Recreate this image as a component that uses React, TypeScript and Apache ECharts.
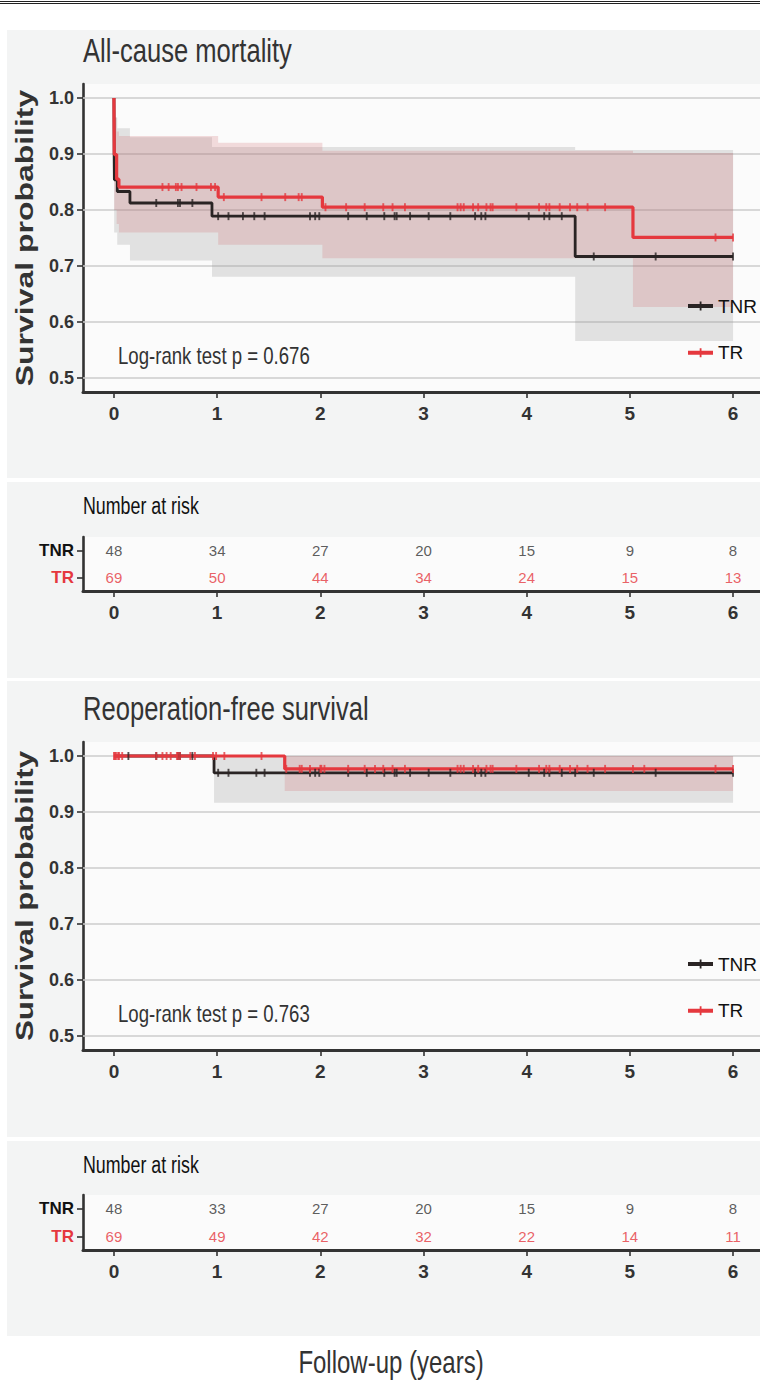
import React, { useEffect, useRef } from "react";
import * as echarts from "echarts";

// ---------- data ----------
const X_TICKS = [0, 1, 2, 3, 4, 5, 6];
const Y_TICKS = [0.5, 0.6, 0.7, 0.8, 0.9, 1.0];
const T_END = 6.0;

// Panel 1: all-cause mortality (Kaplan-Meier steps)
const T_TNR1 = [0, 0.002, 0.004, 0.032, 0.155, 0.95, 4.47, 6.0];
const S_TNR1 = [1.0, 0.896, 0.854, 0.833, 0.8125, 0.789, 0.717, 0.717];
const T_TR1 = [0, 0.003, 0.026, 0.048, 1.01, 2.02, 5.03, 6.0];
const S_TR1 = [1.0, 0.899, 0.855, 0.841, 0.823, 0.805, 0.751, 0.751];

const C_TNR1 = [0.41, 0.62, 0.64, 0.76, 1.01, 1.11, 1.25, 1.36, 1.46, 1.9, 1.95, 1.99, 2.27, 2.45, 2.62, 2.72, 2.74, 2.87, 3.05, 3.26, 3.5, 3.56, 3.6, 4.02, 4.17, 4.22, 4.34, 4.65, 5.25, 6.0];
const C_TR1 = [0.47, 0.53, 0.6, 0.62, 0.655, 0.8, 0.94, 0.98, 1.065, 1.43, 1.66, 1.79, 1.82, 2.05, 2.25, 2.43, 2.61, 2.7, 2.82, 3.33, 3.36, 3.39, 3.48, 3.53, 3.61, 3.65, 3.67, 3.9, 4.12, 4.19, 4.22, 4.32, 4.42, 4.49, 4.59, 4.76, 5.83, 6.0];

const BT_TNR1 = [0.002, 0.032, 0.155, 0.95, 4.47];
const BU_TNR1 = [0.965, 0.946, 0.93, 0.9125, 0.907];
const BL_TNR1 = [0.76, 0.738, 0.71, 0.681, 0.566];
const BT_TR1 = [0.003, 0.026, 0.048, 1.01, 2.02, 5.03];
const BU_TR1 = [0.965, 0.94, 0.932, 0.92, 0.906, 0.902];
const BL_TR1 = [0.8, 0.775, 0.76, 0.738, 0.714, 0.627];

// Panel 2: reoperation-free survival
const T_TNR2 = [0, 0.97, 6.0];
const S_TNR2 = [1.0, 0.97, 0.97];
const T_TR2 = [0, 1.655, 6.0];
const S_TR2 = [1.0, 0.977, 0.977];

const C_TNR2 = [0.14, 0.41, 0.62, 0.64, 0.76, 1.01, 1.11, 1.38, 1.46, 1.9, 1.95, 1.99, 2.27, 2.45, 2.62, 2.72, 2.74, 2.87, 3.05, 3.26, 3.5, 3.56, 3.6, 4.02, 4.17, 4.22, 4.34, 4.47, 4.65, 5.25, 6.0];
const C_TR2 = [0.0, 0.01, 0.02, 0.04, 0.05, 0.08, 0.41, 0.47, 0.51, 0.55, 0.61, 0.62, 0.64, 0.74, 0.785, 0.96, 0.99, 1.07, 1.43, 1.67, 1.8, 1.82, 1.9, 2.0, 2.01, 2.04, 2.27, 2.43, 2.53, 2.61, 2.7, 2.82, 3.33, 3.36, 3.39, 3.48, 3.53, 3.61, 3.65, 3.67, 3.9, 4.12, 4.19, 4.22, 4.32, 4.42, 4.49, 4.59, 4.76, 5.03, 5.14, 5.83, 6.0];

const BT_TNR2 = [0.97];
const BU_TNR2 = [1.0];
const BL_TNR2 = [0.9167];
const BT_TR2 = [1.655];
const BU_TR2 = [1.0];
const BL_TR2 = [0.9375];

// Number at risk
const RISK_T = [0, 1, 2, 3, 4, 5, 6];
const GROUPS = ["TR", "TNR"];
const RISK1_TNR = [48, 34, 27, 20, 15, 9, 8];
const RISK1_TR = [69, 50, 44, 34, 24, 15, 13];
const RISK2_TNR = [48, 33, 27, 20, 15, 9, 8];
const RISK2_TR = [69, 49, 42, 32, 22, 14, 11];

const TITLE1 = "All-cause mortality";
const TITLE2 = "Reoperation-free survival";
const PVAL1 = "Log-rank test p = 0.676";
const PVAL2 = "Log-rank test p = 0.763";

// ---------- styles ----------
const SANS = "'Liberation Sans', Arial, sans-serif";
const RED = "#e5383e";
const DARK = "#2a2424";
const AXIS = "#333333";
const PANEL_BG = "#f3f4f4";
const PLOT_BG = "#fbfbfb";
const NARROW_SCALE = 0.775;
const LEGEND_ICON = "path://M0,2.5H25V6.5H0Z M11.7,0H13.5V9H11.7Z";

function stepAt(T: number[], S: number[], t: number) {
  let v = S[0];
  for (let i = 0; i < T.length; i++) if (T[i] <= t) v = S[i];
  return v;
}

function makeBand(name: string, xi: number, T: number[], U: number[], L: number[], fill: string) {
  return {
    type: "custom",
    name,
    xAxisIndex: xi,
    yAxisIndex: xi,
    clip: true,
    silent: true,
    z: 2,
    data: [[T[0], U[0]]],
    renderItem: (params: any, api: any) => {
      const pts: number[][] = [];
      for (let i = 0; i < T.length; i++) {
        const t1 = i + 1 < T.length ? T[i + 1] : T_END;
        pts.push(api.coord([T[i], U[i]]));
        pts.push(api.coord([t1, U[i]]));
      }
      for (let i = T.length - 1; i >= 0; i--) {
        const t1 = i + 1 < T.length ? T[i + 1] : T_END;
        pts.push(api.coord([t1, L[i]]));
        pts.push(api.coord([T[i], L[i]]));
      }
      return { type: "polygon", shape: { points: pts }, style: { fill } };
    },
  };
}

function makeStep(name: string, xi: number, T: number[], S: number[], color: string, width: number) {
  return {
    type: "line",
    name,
    xAxisIndex: xi,
    yAxisIndex: xi,
    step: "end",
    showSymbol: false,
    symbol: "none",
    color,
    z: 3,
    silent: true,
    lineStyle: { color, width },
    data: T.map((t, i) => [t, S[i]]),
  };
}

function makeCensor(name: string, xi: number, C: number[], T: number[], S: number[], color: string) {
  return {
    type: "scatter",
    name,
    xAxisIndex: xi,
    yAxisIndex: xi,
    symbol: "rect",
    symbolSize: [1.9, 8],
    color,
    z: 4,
    silent: true,
    itemStyle: { color },
    data: C.map((t) => [t, stepAt(T, S, t)]),
  };
}

function makeGridLines(xi: number) {
  return {
    type: "line",
    name: "grid" + xi,
    xAxisIndex: xi,
    yAxisIndex: xi,
    data: [],
    silent: true,
    z: 1,
    markLine: {
      z: 1,
      silent: true,
      symbol: ["none", "none"],
      label: { show: false },
      lineStyle: { color: "#cdcdcd", width: 1.6, type: "solid" },
      data: Y_TICKS.map((v) => ({ yAxis: v })),
    },
  };
}

function makeRisk(name: string, xi: number, group: string, vals: number[], color: string) {
  return {
    type: "scatter",
    name,
    xAxisIndex: xi,
    yAxisIndex: xi,
    symbolSize: 0,
    silent: true,
    z: 4,
    data: RISK_T.map((t, i) => [t, group, vals[i]]),
    label: {
      show: true,
      position: "inside",
      formatter: (p: any) => String(p.value[2]),
      fontFamily: SANS,
      fontSize: 15,
      color,
    },
  };
}

function xAxisOf(gridIndex: number) {
  return {
    type: "value",
    gridIndex,
    min: -0.3,
    max: 6.3,
    axisLine: { show: true, onZero: false, lineStyle: { color: AXIS, width: 3 } },
    axisTick: { show: true, customValues: X_TICKS, length: 6, lineStyle: { color: AXIS, width: 1.6 } },
    axisLabel: { customValues: X_TICKS, margin: 12, fontFamily: SANS, fontSize: 19, fontWeight: "bold", color: AXIS, formatter: (v: number) => String(v) },
    splitLine: { show: false },
  };
}

function yValueAxisOf(gridIndex: number) {
  return {
    type: "value",
    gridIndex,
    min: 0.475,
    max: 1.025,
    axisLine: { show: true, onZero: false, lineStyle: { color: AXIS, width: 2.6 } },
    axisTick: { show: true, customValues: Y_TICKS, length: 6, lineStyle: { color: AXIS, width: 1.6 } },
    axisLabel: { customValues: Y_TICKS, margin: 9, fontFamily: SANS, fontSize: 18, fontWeight: "bold", color: AXIS, formatter: (v: number) => v.toFixed(1) },
    splitLine: { show: false },
  };
}

function yCatAxisOf(gridIndex: number) {
  return {
    type: "category",
    gridIndex,
    data: GROUPS,
    axisLine: { show: true, onZero: false, lineStyle: { color: AXIS, width: 2.6 } },
    axisTick: { show: true, alignWithLabel: true, length: 6, lineStyle: { color: AXIS, width: 1.6 } },
    axisLabel: {
      margin: 9,
      formatter: (v: string) => (v === "TNR" ? "{a|TNR}" : "{b|TR}"),
      rich: {
        a: { color: "#111", fontWeight: "bold", fontFamily: SANS, fontSize: 17 },
        b: { color: RED, fontWeight: "bold", fontFamily: SANS, fontSize: 17 },
      },
    },
    splitLine: { show: false },
  };
}

function text(t: string, x: number, y: number, size: number, fill: string, extra: any = {}) {
  const { fontWeight, align, ...rest } = extra;
  return {
    type: "text",
    x,
    y,
    z: 100,
    silent: true,
    scaleX: NARROW_SCALE,
    ...rest,
    style: {
      text: t,
      fill,
      fontSize: size,
      fontFamily: SANS,
      fontWeight: fontWeight || "normal",
      align: align || "left",
      verticalAlign: "middle",
      textAlign: align || "left",
      textVerticalAlign: "middle",
    },
  };
}

function legendAt(top: number) {
  return {
    data: ["TNR", "TR"],
    left: 683,
    top,
    orient: "vertical",
    icon: LEGEND_ICON,
    itemWidth: 25,
    itemHeight: 9,
    itemGap: 24.7,
    selectedMode: false,
    textStyle: { fontFamily: SANS, fontSize: 19, color: "#111", lineHeight: 22 },
  };
}

export default function App() {
  const ref = useRef<HTMLDivElement>(null);
  useEffect(() => {
    if (!ref.current) return;
    const chart = echarts.init(ref.current, null, { renderer: "svg", width: 760, height: 1380 });
    const bg = (y: number, h: number) => ({
      type: "rect",
      z: -10,
      silent: true,
      shape: { x: 7, y, width: 760, height: h },
      style: { fill: PANEL_BG },
    });
    const option: any = {
      animation: false,
      backgroundColor: "#ffffff",
      grid: [
        { left: 83, top: 84, width: 681, height: 308, show: true, backgroundColor: PLOT_BG, borderWidth: 0, outerBoundsMode: "none" },
        { left: 83, top: 537, width: 681, height: 54, show: true, backgroundColor: PLOT_BG, borderWidth: 0, outerBoundsMode: "none" },
        { left: 83, top: 742, width: 681, height: 308, show: true, backgroundColor: PLOT_BG, borderWidth: 0, outerBoundsMode: "none" },
        { left: 83, top: 1195, width: 681, height: 55, show: true, backgroundColor: PLOT_BG, borderWidth: 0, outerBoundsMode: "none" },
      ],
      xAxis: [xAxisOf(0), xAxisOf(1), xAxisOf(2), xAxisOf(3)],
      yAxis: [yValueAxisOf(0), yCatAxisOf(1), yValueAxisOf(2), yCatAxisOf(3)],
      legend: [legendAt(290), legendAt(948)],
      series: [
        makeStep("TNR", 0, T_TNR1, S_TNR1, DARK, 2.8),
        makeStep("TR", 0, T_TR1, S_TR1, RED, 3.2),
        makeGridLines(0),
        makeBand("TNR band 1", 0, BT_TNR1, BU_TNR1, BL_TNR1, "rgba(150,150,150,0.26)"),
        makeBand("TR band 1", 0, BT_TR1, BU_TR1, BL_TR1, "rgba(205,90,95,0.2)"),
        makeCensor("TNR censored 1", 0, C_TNR1, T_TNR1, S_TNR1, DARK),
        makeCensor("TR censored 1", 0, C_TR1, T_TR1, S_TR1, RED),
        makeRisk("TNR at risk 1", 1, "TNR", RISK1_TNR, "#333333"),
        makeRisk("TR at risk 1", 1, "TR", RISK1_TR, RED),
        makeStep("TNR ", 2, T_TNR2, S_TNR2, DARK, 2.8),
        makeStep("TR ", 2, T_TR2, S_TR2, RED, 3.2),
        makeGridLines(2),
        makeBand("TNR band 2", 2, BT_TNR2, BU_TNR2, BL_TNR2, "rgba(150,150,150,0.26)"),
        makeBand("TR band 2", 2, BT_TR2, BU_TR2, BL_TR2, "rgba(205,90,95,0.2)"),
        makeCensor("TNR censored 2", 2, C_TNR2, T_TNR2, S_TNR2, DARK),
        makeCensor("TR censored 2", 2, C_TR2, T_TR2, S_TR2, RED),
        makeRisk("TNR at risk 2", 3, "TNR", RISK2_TNR, "#333333"),
        makeRisk("TR at risk 2", 3, "TR", RISK2_TR, RED),
      ],
      graphic: [
        { type: "line", z: 100, silent: true, shape: { x1: 0, y1: 1.5, x2: 760, y2: 1.5 }, style: { stroke: "#222", lineWidth: 1 } },
        { type: "line", z: 100, silent: true, shape: { x1: 0, y1: 3.5, x2: 760, y2: 3.5 }, style: { stroke: "#222", lineWidth: 1 } },
        bg(30, 448),
        bg(482, 196),
        bg(681, 456),
        bg(1141, 195),
        text(TITLE1, 83, 50, 33, "#333"),
        text(TITLE2, 83, 708, 33, "#333"),
        text("Survival probability", 25, 238, 23, "#333", { fontWeight: "bold", align: "center", rotation: Math.PI / 2, scaleX: 1.39 }),
        text("Survival probability", 25, 896, 23, "#333", { fontWeight: "bold", align: "center", rotation: Math.PI / 2, scaleX: 1.36 }),
        text(PVAL1, 118, 356, 24, "#333"),
        text(PVAL2, 118, 1014, 24, "#333"),
        text("Number at risk", 83, 506, 23, "#111"),
        text("Number at risk", 83, 1165, 23, "#111"),
        text("Follow-up (years)", 391, 1362, 32, "#333", { align: "center", scaleX: 0.75 }),
      ],
    };
    chart.setOption(option);
    return () => chart.dispose();
  }, []);
  return <div ref={ref} style={{ position: "absolute", left: 0, top: 0, width: 760, height: 1380 }} />;
}
